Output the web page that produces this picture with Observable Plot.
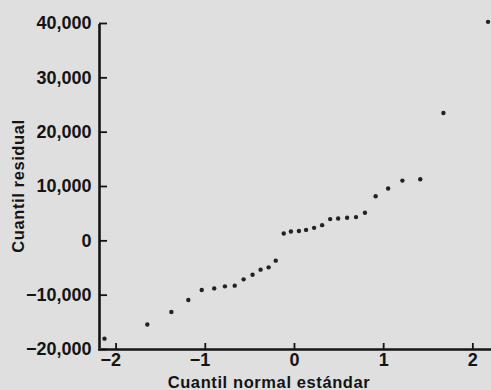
<!DOCTYPE html>
<html>
<head>
<meta charset="utf-8">
<script src="https://cdn.jsdelivr.net/npm/d3@7"></script>
<script src="https://cdn.jsdelivr.net/npm/@observablehq/plot@0.6"></script>
<style>
  html, body { margin: 0; padding: 0; background: #dfdfdf; }
  #chart svg { display: block; }
</style>
</head>
<body>
<div id="chart"></div>
<script>
// Standard normal quantiles (x) and residual quantiles (y)
const normalQuantiles = [-2.13, -1.65, -1.38, -1.19, -1.04, -0.90, -0.78, -0.67, -0.57, -0.47,
  -0.38, -0.29, -0.21, -0.12, -0.04, 0.05, 0.13, 0.22, 0.31, 0.40,
  0.49, 0.59, 0.69, 0.79, 0.91, 1.05, 1.21, 1.41, 1.67, 2.17];
const residualQuantiles = [-18000, -15400, -13100, -10900, -9060, -8750, -8380, -8250, -7090, -6230,
  -5300, -4880, -3650, 1340, 1710, 1820, 2010, 2390, 2890, 4000,
  4110, 4240, 4370, 5160, 8200, 9630, 11090, 11330, 23540, 40300];
const xTicks = [-2, -1, 0, 1, 2];
const yTicks = [-20000, -10000, 0, 10000, 20000, 30000, 40000];
const xDomain = [-2.186, 2.209];
const yDomain = [-20000, 40000];
const xTitle = "Cuantil normal estándar";
const yTitle = "Cuantil residual";

const points = normalQuantiles.map((q, i) => ({q, r: residualQuantiles[i]}));
const fmt = d3.format(",");
const font = "Liberation Sans, Arial, Helvetica, sans-serif";
const ink = "#141414";

const chart = Plot.plot({
  width: 491,
  height: 390,
  marginLeft: 99,
  marginRight: 0,
  marginTop: 23,
  marginBottom: 41,
  style: {background: "#dfdfdf", fontFamily: font},
  x: {domain: xDomain, axis: null},
  y: {domain: yDomain, axis: null},
  marks: [
    // inward tick marks
    Plot.tickY(yTicks, {y: d => d, insetRight: 384, stroke: ink, strokeWidth: 1.8}),
    Plot.tickX(xTicks, {x: d => d, insetTop: 320, stroke: ink, strokeWidth: 1.8}),
    // axis lines
    Plot.ruleX([xDomain[0]], {stroke: ink, strokeWidth: 2.6, y1: yDomain[0], y2: yDomain[1], insetTop: -1, insetBottom: -1}),
    Plot.ruleY([yDomain[0]], {stroke: ink, strokeWidth: 2.6, insetLeft: -1}),
    // y tick labels
    Plot.text(yTicks, {y: d => d, text: d => fmt(d), frameAnchor: "left", textAnchor: "end", dx: -8,
      fontSize: 18, fontWeight: "bold", fill: ink}),
    // x tick labels (digits centred on tick, minus sign hanging left)
    Plot.text(xTicks.filter(d => d < 0), {x: d => d, text: d => fmt(d), frameAnchor: "bottom", lineAnchor: "top",
      textAnchor: "end", dx: 5, dy: 4, fontSize: 18, fontWeight: "bold", fill: ink}),
    Plot.text(xTicks.filter(d => d >= 0), {x: d => d, text: d => fmt(d), frameAnchor: "bottom", lineAnchor: "top",
      dy: 4, fontSize: 18, fontWeight: "bold", fill: ink}),
    // axis titles
    Plot.text([xTitle], {frameAnchor: "bottom", textAnchor: "middle", lineAnchor: "top", dx: -26.5, dy: 27,
      fontSize: 16.5, fontWeight: "bold", fill: ink}),
    Plot.text([yTitle], {frameAnchor: "left", textAnchor: "middle", lineAnchor: "middle", rotate: -90, dx: -80.3, dy: -0.5,
      fontSize: 16.5, fontWeight: "bold", fill: ink}),
    // points
    Plot.dot(points, {x: "q", y: "r", r: 2.2, fill: "#222", stroke: "none"})
  ]
});
d3.select(chart).selectAll("text")
  .filter(function() { return this.textContent === xTitle || this.textContent === yTitle; })
  .style("letter-spacing", "0.6px");
document.getElementById("chart").appendChild(chart);
</script>
</body>
</html>
